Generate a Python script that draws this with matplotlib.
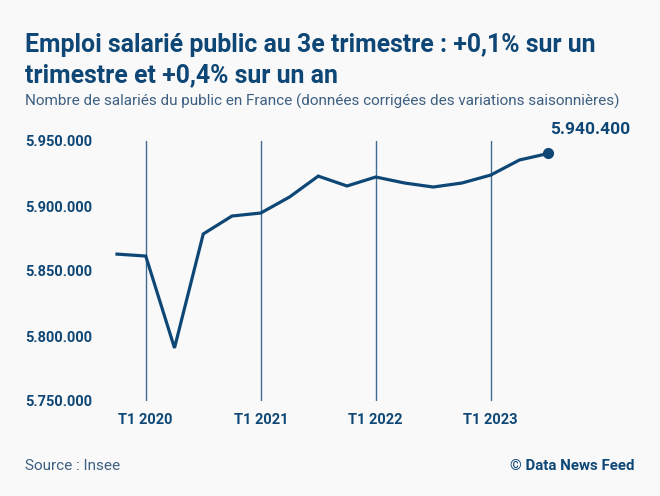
import matplotlib.pyplot as plt

# quarterly public employees, Q4 2019 .. Q3 2023
quarters = ['T4 2019', 'T1 2020', 'T2 2020', 'T3 2020', 'T4 2020',
            'T1 2021', 'T2 2021', 'T3 2021', 'T4 2021',
            'T1 2022', 'T2 2022', 'T3 2022', 'T4 2022',
            'T1 2023', 'T2 2023', 'T3 2023']
salaries = [5863000, 5861500, 5790800, 5878500, 5892300,
            5894600, 5906900, 5923000, 5915400,
            5922300, 5917700, 5914600, 5917700,
            5923800, 5935400, 5940400]
y_ticks = [5750000, 5800000, 5850000, 5900000, 5950000]
x_labels = ['T1 2020', 'T1 2021', 'T1 2022', 'T1 2023']

blue = '#0e4775'
bg = '#f9f9fa'
plt.rcParams['font.family'] = ['Roboto', 'DejaVu Sans']

W, H = 660, 496
fig = plt.figure(figsize=(W/100, H/100), dpi=100, facecolor=bg)

# axes placed in pixel coordinates
left, right, top, bottom = 105, 570, 141, 401
ax = fig.add_axes([left/W, 1 - bottom/H, (right-left)/W, (bottom-top)/H])
ax.set_facecolor(bg)

x = list(range(len(quarters)))
# map so that index 0 sits at px 117, step 28.75 px
px0, step = 117, 28.75
ax.set_xlim((left-px0)/step, (right-px0)/step)
ax.set_ylim(5750000, 5950000)

for lab in x_labels:
    ax.axvline(quarters.index(lab), color='#3f6a92', lw=1, zorder=1)

ax.plot(x, salaries, color=blue, lw=2.3, zorder=3, solid_joinstyle='miter')
ax.plot(x[-1], salaries[-1], 'o', color=blue, ms=7, zorder=4)
ax.annotate(f"{salaries[-1]:,}".replace(',', '.'), (x[-1], salaries[-1]),
            xytext=(30, 17), textcoords='offset points', ha='center', va='center',
            fontsize=12.5, fontweight='bold', color=blue, annotation_clip=False)

for s in ax.spines.values():
    s.set_visible(False)
ax.set_yticks(y_ticks)
ax.set_yticklabels([f"{v:,}".replace(',', '.') for v in y_ticks])
ax.set_xticks([quarters.index(l) for l in x_labels])
ax.set_xticklabels(x_labels)
ax.tick_params(length=0, colors=blue, labelsize=10.5)
ax.tick_params(axis='y', pad=9)
ax.tick_params(axis='x', pad=9)
for t in ax.get_xticklabels() + ax.get_yticklabels():
    t.set_fontweight('bold')

fig.text(25/W, 1 - 45/H, "Emploi salarié public au 3e trimestre : +0,1% sur un",
         fontsize=17.9, fontweight='bold', color=blue, va='center')
fig.text(25/W, 1 - 75/H, "trimestre et +0,4% sur un an",
         fontsize=17.9, fontweight='bold', color=blue, va='center')
fig.text(25/W, 1 - 101/H,
         "Nombre de salariés du public en France (données corrigées des variations saisonnières)",
         fontsize=11.0, fontweight='normal', color='#3d5f80', va='center')
fig.text(25/W, 1 - 466/H, "Source : Insee", fontsize=11.0, fontweight='normal',
         color='#3d5f80', va='center')
fig.text(634/W, 1 - 466/H, "© Data News Feed", fontsize=10.8, fontweight='bold',
         color=blue, va='center', ha='right')

fig.savefig('out.png', dpi=100, facecolor=bg)
